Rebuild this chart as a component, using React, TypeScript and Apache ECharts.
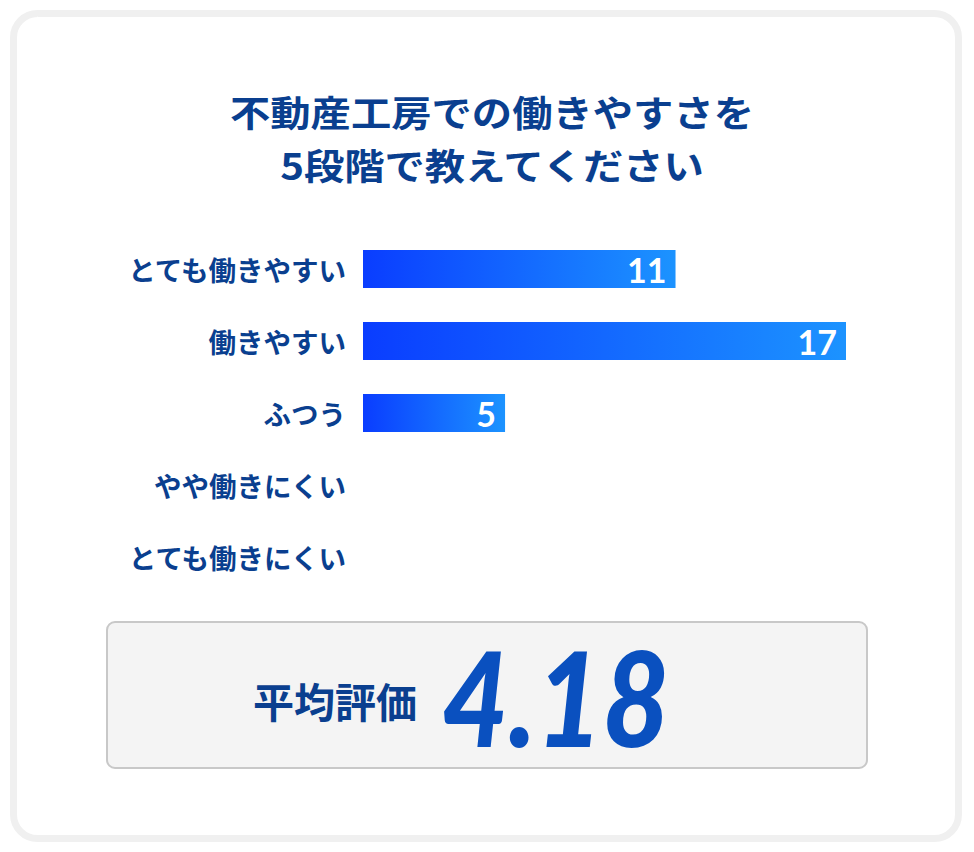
import { useEffect, useRef } from 'react'
import * as echarts from 'echarts'

const titleLines = ['不動産工房での働きやすさを', '5段階で教えてください']
const categories = ['とても働きやすい', '働きやすい', 'ふつう', 'やや働きにくい', 'とても働きにくい']
const counts = [11, 17, 5, 0, 0]
const averageLabel = '平均評価'
const averageValue = '4.18'

const NAVY = '#0a3f8f'
const JP_FONT = '"Noto Sans CJK JP", "Noto Sans", sans-serif'

export default function App() {
  const chartRef = useRef<HTMLDivElement | null>(null)

  useEffect(() => {
    if (!chartRef.current) {
      return undefined
    }

    const chart = echarts.init(chartRef.current, undefined, { renderer: 'svg' })

    // two title lines, slightly widened to mimic the letter spacing of the original
    const titleTexts = titleLines.map((line, i) => ({
      type: 'text',
      x: 492,
      y: 111 + i * 53,
      scaleX: 1.12,
      style: {
        text: line,
        fill: NAVY,
        font: `bold 36px ${JP_FONT}`,
        align: 'center',
        verticalAlign: 'middle',
      },
    }))

    chart.setOption({
      animation: false,
      backgroundColor: '#ffffff',
      graphic: [
        {
          type: 'rect',
          z: -10,
          shape: { x: 13.5, y: 13.5, width: 945, height: 825, r: 24 },
          style: { fill: '#ffffff', stroke: '#f0f0f0', lineWidth: 7 },
        },
        ...titleTexts,
        {
          type: 'rect',
          shape: { x: 107, y: 622, width: 760, height: 146, r: 8 },
          style: { fill: '#f4f4f4', stroke: '#c8c8c8', lineWidth: 2 },
        },
        {
          type: 'text',
          x: 253,
          y: 700,
          style: {
            text: averageLabel,
            fill: NAVY,
            font: `bold 41px ${JP_FONT}`,
            align: 'left',
            verticalAlign: 'middle',
          },
        },
        {
          type: 'text',
          x: 442,
          y: 696,
          scaleX: 0.87,
          style: {
            text: averageValue,
            fill: '#0a50bf',
            font: 'italic 900 132px Lato, sans-serif',
            align: 'left',
            verticalAlign: 'middle',
          },
        },
      ],
      grid: { left: 363, right: 128, top: 233, height: 360 },
      xAxis: {
        type: 'value',
        min: 0,
        max: 17,
        show: false,
      },
      yAxis: {
        type: 'category',
        data: categories,
        inverse: true,
        axisLine: { show: false },
        axisTick: { show: false },
        axisLabel: {
          margin: 17,
          color: NAVY,
          fontSize: 27.5,
          fontWeight: 'bold',
          fontFamily: JP_FONT,
        },
      },
      series: [
        {
          type: 'bar',
          data: counts,
          barWidth: 38,
          itemStyle: {
            color: new echarts.graphic.LinearGradient(0, 0, 1, 0, [
              { offset: 0, color: '#0a3dff' },
              { offset: 1, color: '#1c93ff' },
            ]),
          },
          label: {
            show: true,
            position: 'insideRight',
            distance: 9,
            color: '#ffffff',
            fontSize: 34,
            fontWeight: 'bold',
            fontFamily: 'Lato, sans-serif',
            formatter: (p: { value: number }) => (p.value > 0 ? String(p.value) : ''),
          },
        },
      ],
    })

    return () => {
      chart.dispose()
    }
  }, [])

  return (
    <div
      ref={chartRef}
      style={{ position: 'absolute', left: 0, top: 0, width: 974, height: 852 }}
    />
  )
}
